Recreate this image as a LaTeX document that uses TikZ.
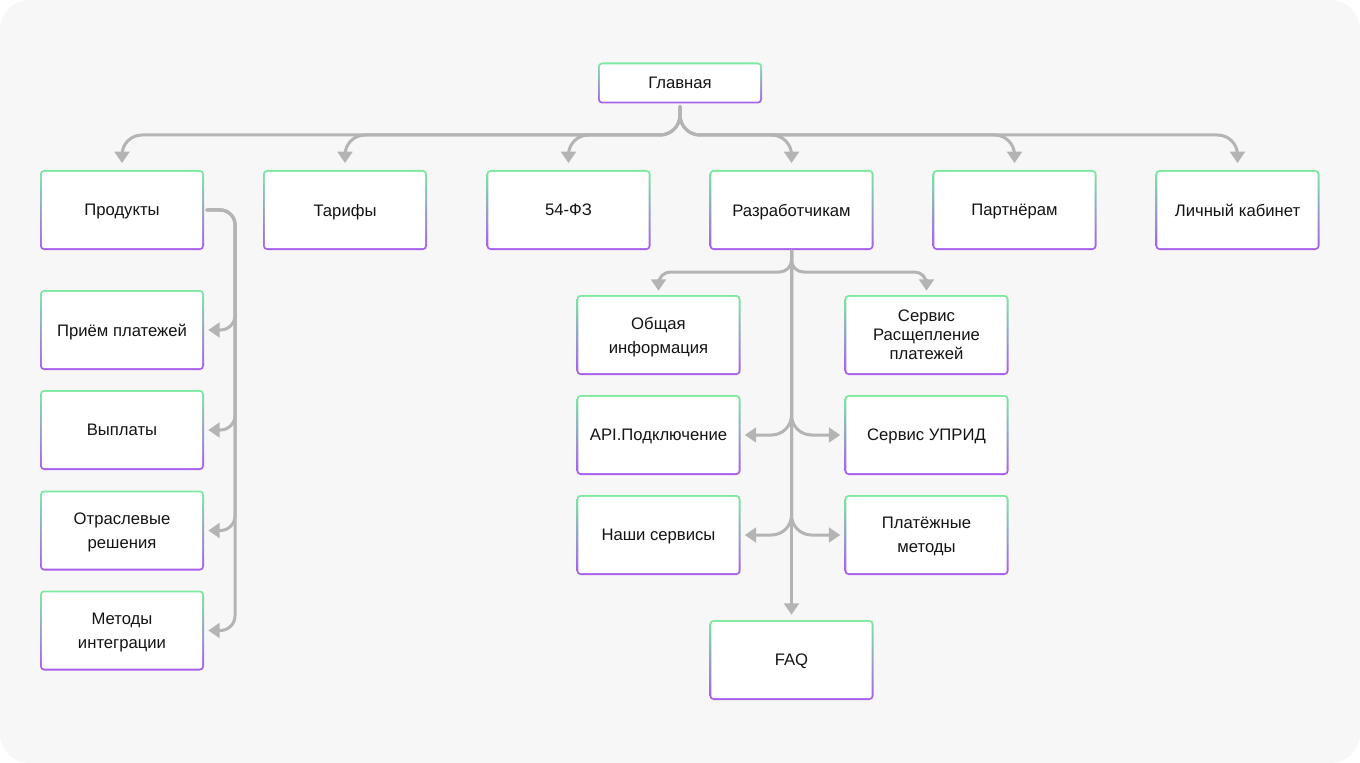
\documentclass[tikz,border=0pt]{standalone}
\usepackage{fontspec}
\setmainfont{Liberation Sans}
\usetikzlibrary{arrows.meta}

\definecolor{bggray}{HTML}{F7F7F7}
\definecolor{linegray}{HTML}{B4B4B4}
\definecolor{boxgreen}{HTML}{7CE9A0}
\definecolor{boxpurple}{HTML}{A95CEE}
\definecolor{textdark}{HTML}{141414}

\begin{document}
\begin{tikzpicture}[x=0.75pt, y=-0.75pt,
        box/.style={rectangle, rounded corners=3pt, fill=white, inner sep=0pt,
            minimum width=123pt, minimum height=60pt, align=center, text=textdark,
            font=\fontsize{12.5}{18}\selectfont, text depth=0pt,
            path picture={
                \shade[top color=boxgreen, bottom color=boxpurple]
                    (path picture bounding box.north west) rectangle (path picture bounding box.south east);
                \fill[white, rounded corners=2pt]
                    ([shift={(1.35pt,-1.35pt)}]path picture bounding box.north west) rectangle
                    ([shift={(-1.35pt,1.35pt)}]path picture bounding box.south east);
            }},
        conn/.style={draw=linegray, line width=2.25pt, line cap=round,
            -{Triangle[width=11pt,length=8.5pt]}, shorten <=2pt, shorten >=3pt}]

    % background
    \fill[white] (0,0) rectangle (1360,763);
    \fill[bggray, rounded corners=22pt] (0,0) rectangle (1360,763);

    % main level
    \node[box, minimum height=30.75pt] (glav) at (680,83) {Главная};
    \node[box] (prod)  at (122,210)    {Продукты};
    \node[box] (tarif) at (345,210)    {Тарифы};
    \node[box] (fz)    at (568.5,210)  {54-ФЗ};
    \node[box] (razr)  at (791.5,210)  {Разработчикам};
    \node[box] (partn) at (1014.5,210) {Партнёрам};
    \node[box] (lk)    at (1237.5,210) {Личный кабинет};

    % products
    \node[box] (priem)  at (122,330)   {Приём платежей};
    \node[box] (vypl)   at (122,430)   {Выплаты};
    \node[box] (otrasl) at (122,530.5) {Отраслевые\\решения};
    \node[box] (metod)  at (122,630.5) {Методы\\интеграции};

    % developers
    \node[box] (obsh)  at (658.5,335) {Общая\\информация};
    \node[box, font=\fontsize{12.5}{14.25}\selectfont] (rassh) at (926.5,335) {Сервис\\Расщепление\\платежей};
    \node[box] (api)   at (658.5,435) {API.Подключение};
    \node[box] (uprid) at (926.5,435) {Сервис УПРИД};
    \node[box] (nashi) at (658.5,535) {Наши сервисы};
    \node[box] (plat)  at (926.5,535) {Платёжные\\методы};
    \node[box] (faq)   at (791.5,660) {FAQ};

    \coordinate (topbus) at (680,135);
    \coordinate (pbus) at (235,210);
    \coordinate (rbus) at (791.5,272);

    \foreach \c in {prod,tarif,fz,razr,partn,lk}
        \draw[conn, rounded corners=15pt, shorten >=5pt] (glav.south) -- (topbus) -| (\c.north);

    \foreach \c in {priem,vypl,otrasl,metod}
        \draw[conn, rounded corners=11pt] (prod.east) -- (pbus) |- (\c.east);

    \foreach \c in {obsh,rassh}
        \draw[conn, rounded corners=9pt, shorten <=0.5pt] (razr.south) -- (rbus) -| (\c.north);
    \foreach \c in {api,nashi}
        \draw[conn, rounded corners=15pt, shorten <=0.5pt] (razr.south) |- (\c.east);
    \foreach \c in {uprid,plat}
        \draw[conn, rounded corners=15pt, shorten <=0.5pt] (razr.south) |- (\c.west);
    \draw[conn, shorten <=0.5pt, shorten >=3.75pt] (razr.south) -- (faq.north);

\end{tikzpicture}
\end{document}
